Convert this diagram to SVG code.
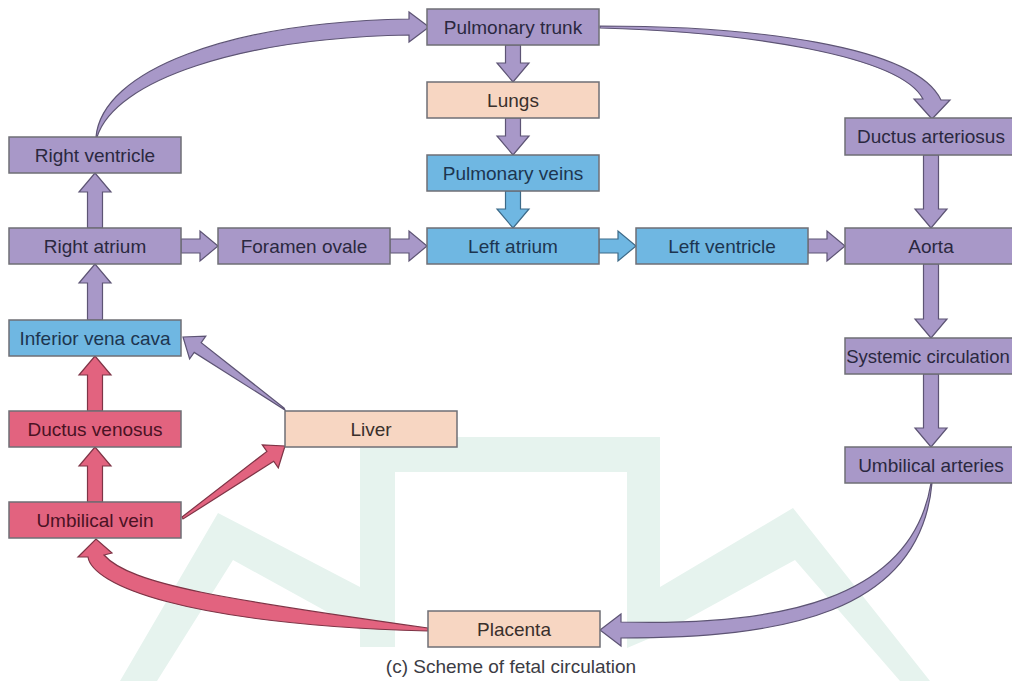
<svg xmlns="http://www.w3.org/2000/svg" width="1012" height="681" viewBox="0 0 1012 681">
<style>
.box{stroke:#6f6f76;stroke-width:1.5}
.pu{fill:#a898c8}
.bl{fill:#6fb7e2}
.pk{fill:#e2637f}
.pe{fill:#f7d6c2}
.t{font-family:"Liberation Sans",Arial,sans-serif;font-size:19px;text-anchor:middle}
.tpu{fill:#2b2840}
.tbl{fill:#1d3550}
.tpk{fill:#4a1224}
.tpe{fill:#3a302c}
.apu{fill:#a898c8;stroke:#5d5474;stroke-width:1.2;stroke-linejoin:miter}
.abl{fill:#6fb7e2;stroke:#3d6a88;stroke-width:1.2}
.apk{fill:#e2637f;stroke:#7e3446;stroke-width:1.2}
.wm{fill:#e6f3ee}
</style>
<rect width="1012" height="681" fill="#ffffff"/>
<g id="watermark">
<polygon class="wm" points="120,681 218,513 360,587 360,630 233,560 157,681"/>
<polygon class="wm" points="360,647 360,437 660,437 660,587 793,508 930,681 900,681 795,560 660,634 627,648 627,472 395,472 395,647"/>
</g>
<g id="connectors">
<path class="apu" d="M505.5,45 V63 H497 L513,82 L529,63 H520.5 V45 Z"/>
<path class="apu" d="M505.5,118 V136 H497 L513,155 L529,136 H520.5 V118 Z"/>
<path class="abl" d="M505.5,191 V209 H497 L513,228 L529,209 H520.5 V191 Z"/>
<path class="apu" d="M923.5,155 V209 H915 L931,228 L947,209 H938.5 V155 Z"/>
<path class="apu" d="M923.5,264 V319 H915 L931,338 L947,319 H938.5 V264 Z"/>
<path class="apu" d="M923.5,374 V428 H915 L931,447 L947,428 H938.5 V374 Z"/>
<path class="apu" d="M87.5,228 V192 H79 L95,173 L111,192 H102.5 V228 Z"/>
<path class="apu" d="M87.5,320 V283 H79 L95,264 L111,283 H102.5 V320 Z"/>
<path class="apk" d="M87.5,411 V375 H79 L95,356 L111,375 H102.5 V411 Z"/>
<path class="apk" d="M87.5,502 V466 H79 L95,447 L111,466 H102.5 V502 Z"/>
<path class="apu" d="M181,239 H200 V231 L218,246 L200,261 V253 H181 Z"/>
<path class="apu" d="M390,239 H409 V231 L427,246 L409,261 V253 H390 Z"/>
<path class="abl" d="M599,239 H618 V231 L636,246 L618,261 V253 H599 Z"/>
<path class="apu" d="M808,239 H827 V231 L845,246 L827,261 V253 H808 Z"/>
<path class="apk" d="M182,517 L266.9,451.4 L262.3,444.8 L285,446 L278.3,467.8 L273.7,461.2 L183,519 Z"/>
<path class="apu" d="M284,408 L201.2,342.6 L205.8,336.1 L183,337 L189.6,358.9 L194.2,352.4 L285,410 Z"/>
<path class="apu" d="M96,137 C102,70 230,22 409,19 L409,12 L429,27 L409,42 L409,35 C240,38 115,80 97,137 Z"/>
<path class="apu" d="M600,26 C750,26 915,45 941,100 L950,100 L932,119 L914,99 L923,99 C900,55 745,32 600,28 Z"/>
<path class="apu" d="M932,483 C920,615 780,638 621,638 L621,646 L600,630 L621,614 L621,622 C780,626 912,600 931,483 Z"/>
<path class="apk" d="M428,631 C180,624 92,584 88,557 L78,557 L96,539 L112,553 L104,555 C130,585 230,600 428,628 Z"/>
</g>
<g id="pulmonary-trunk"><rect class="box pu" x="427" y="9" width="172" height="36"/><text class="t tpu" x="513" y="33.5">Pulmonary trunk</text></g>
<g id="lungs"><rect class="box pe" x="427" y="82" width="172" height="36"/><text class="t tpe" x="513" y="106.5">Lungs</text></g>
<g id="pulmonary-veins"><rect class="box bl" x="427" y="155" width="172" height="36"/><text class="t tbl" x="513" y="179.5">Pulmonary veins</text></g>
<g id="left-atrium"><rect class="box bl" x="427" y="228" width="172" height="36"/><text class="t tbl" x="513" y="252.5">Left atrium</text></g>
<g id="left-ventricle"><rect class="box bl" x="636" y="228" width="172" height="36"/><text class="t tbl" x="722" y="252.5">Left ventricle</text></g>
<g id="aorta"><rect class="box pu" x="845" y="228" width="172" height="36"/><text class="t tpu" x="931" y="252.5">Aorta</text></g>
<g id="ductus-arteriosus"><rect class="box pu" x="845" y="118" width="172" height="37"/><text class="t tpu" x="931" y="143">Ductus arteriosus</text></g>
<g id="systemic-circulation"><rect class="box pu" x="845" y="338" width="172" height="36"/><text class="t tpu" x="928" y="362.5" style="font-size:18.5px">Systemic circulation</text></g>
<g id="umbilical-arteries"><rect class="box pu" x="845" y="447" width="172" height="36"/><text class="t tpu" x="931" y="471.5">Umbilical arteries</text></g>
<g id="placenta"><rect class="box pe" x="428" y="611" width="172" height="36"/><text class="t tpe" x="514" y="635.5">Placenta</text></g>
<g id="right-ventricle"><rect class="box pu" x="9" y="137" width="172" height="36"/><text class="t tpu" x="95" y="161.5">Right ventricle</text></g>
<g id="right-atrium"><rect class="box pu" x="9" y="228" width="172" height="36"/><text class="t tpu" x="95" y="252.5">Right atrium</text></g>
<g id="foramen-ovale"><rect class="box pu" x="218" y="228" width="172" height="36"/><text class="t tpu" x="304" y="252.5">Foramen ovale</text></g>
<g id="inferior-vena-cava"><rect class="box bl" x="9" y="320" width="172" height="36"/><text class="t tbl" x="95" y="344.5">Inferior vena cava</text></g>
<g id="ductus-venosus"><rect class="box pk" x="9" y="411" width="172" height="36"/><text class="t tpk" x="95" y="435.5">Ductus venosus</text></g>
<g id="umbilical-vein"><rect class="box pk" x="9" y="502" width="172" height="36"/><text class="t tpk" x="95" y="526.5">Umbilical vein</text></g>
<g id="liver"><rect class="box pe" x="285" y="411" width="172" height="36"/><text class="t tpe" x="371" y="435.5">Liver</text></g>
<text class="t" x="511" y="673" fill="#3c3c44">(c) Scheme of fetal circulation</text>
</svg>
